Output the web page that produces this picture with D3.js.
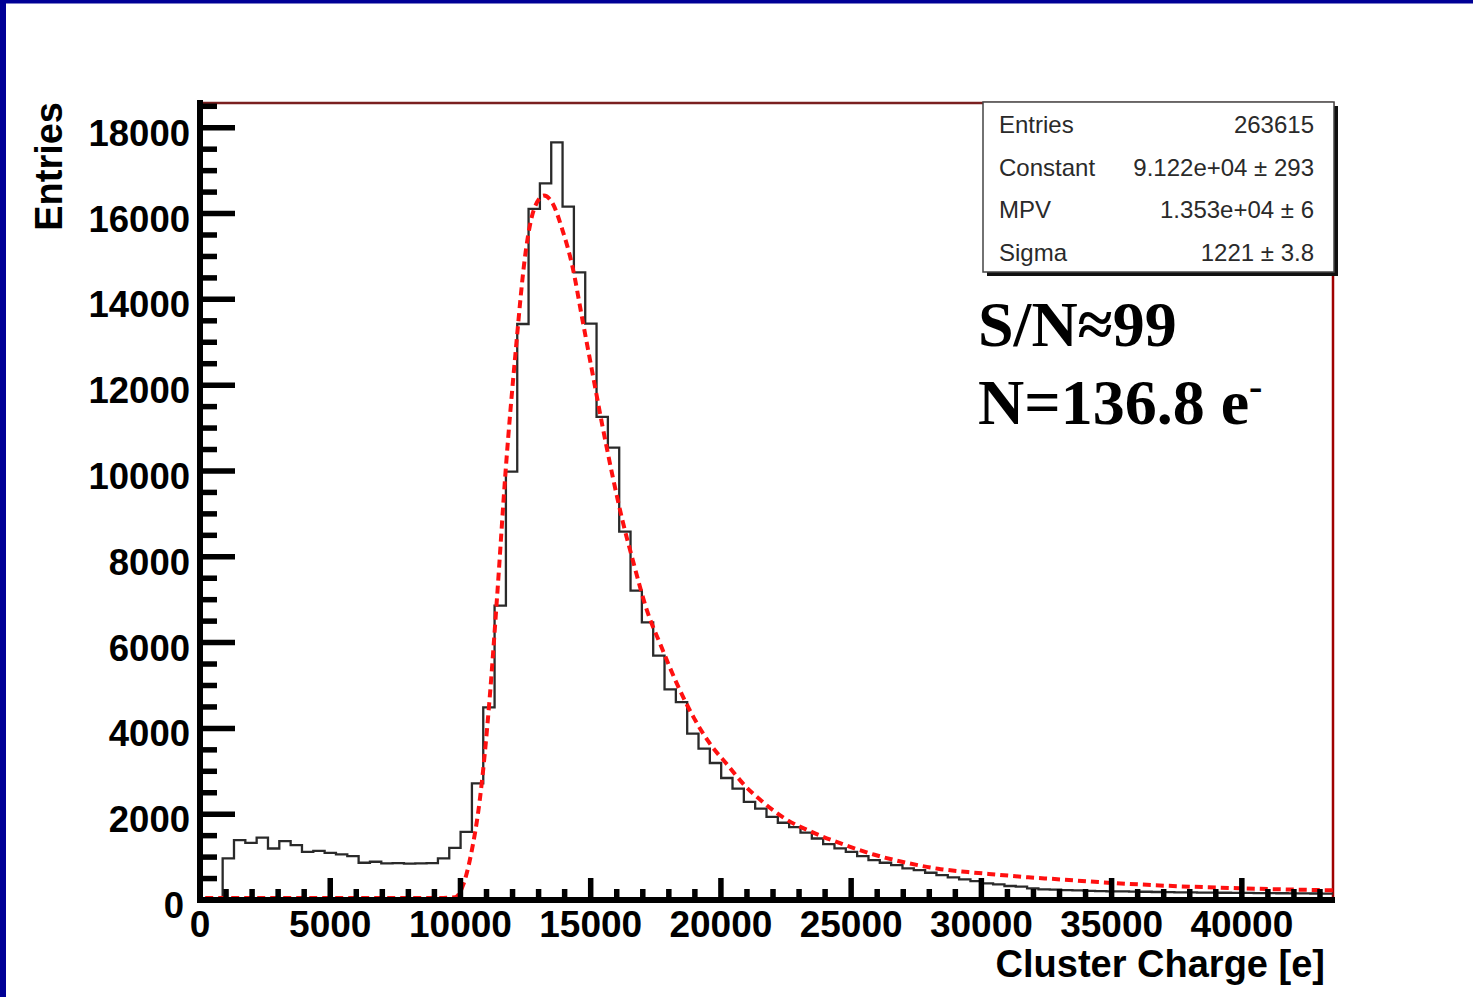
<!DOCTYPE html>
<html>
<head>
<meta charset="utf-8">
<script src="https://cdn.jsdelivr.net/npm/d3@7"></script>
<style>
    body { margin: 0; background: white; }
    svg { display: block; }
</style>
</head>
<body>
<svg id="container" width="1473" height="997"></svg>
<script>
    // histogram: 100 bins from 0 to 43500 e
    let xRange = [0, 43500]
    let counts = [
        0, 0, 970, 1395, 1333, 1456, 1200, 1372, 1279, 1124,
        1147, 1100, 1062, 1023, 868, 891, 853, 860, 850, 855,
        860, 970, 1215, 1589, 2720, 4490, 6860, 9983, 13426, 16108,
        16705, 17658, 16163, 14628, 13434, 11263, 10542, 8588, 7209, 6473,
        5698, 4907, 4612, 3876, 3527, 3193, 2844, 2597, 2287, 2132,
        1938, 1800, 1700, 1570, 1434, 1302, 1202, 1124, 1023, 930,
        868, 814, 737, 698, 635, 581, 528, 481, 442, 388,
        365, 326, 310, 272, 249, 244, 230, 226, 214, 209,
        203, 200, 194, 192, 186, 185, 180, 178, 173, 172,
        169, 166, 165, 161, 160, 157, 156, 153, 152, 150
    ]

    // landau fit curve
    let fitX = [200, 3000, 6000, 9000, 9800, 10100, 10400, 10750, 11100, 11410,
        11730, 12115, 12500, 12820, 13205, 13527, 13910, 14296, 14680, 15065,
        15450, 15835, 16220, 16605, 17180, 17690, 18335, 18973, 19615, 20257,
        20897, 21665, 22435, 23590, 24743, 25897, 27180, 28335, 29488, 30643,
        31797, 32820, 34488, 37050, 39615, 42820, 43500]
    let fitY = [0, 0, 0, 0, 20, 300, 1000, 2325, 4500, 7054,
        9923, 12713, 15046, 16046, 16372, 16202, 15581, 14728, 13488, 12248,
        11007, 9850, 8800, 7900, 6667, 5891, 4961, 4186, 3565, 3100,
        2635, 2209, 1860, 1512, 1240, 1008, 814, 682, 605, 543,
        481, 442, 372, 287, 233, 186, 180]

    let xTickValues = [0, 5000, 10000, 15000, 20000, 25000, 30000, 35000, 40000]
    let yTickValues = [0, 2000, 4000, 6000, 8000, 10000, 12000, 14000, 16000, 18000]
    let xMinorStep = 1000
    let yMinorStep = 500
    let yMax = 18600

    let statsLabels = ["Entries", "Constant", "MPV", "Sigma"]
    let statsValues = ["263615", "9.122e+04 \u00b1 293", "1.353e+04 \u00b1 6", "1221 \u00b1 3.8"]

    let noteLines = ["S/N\u224899", "N=136.8 e"]

    let svg = d3.select("#container")
    let pLeft = 200, pRight = 1333, pTop = 102, pBottom = 900

    let x = d3.scaleLinear().domain(xRange).range([pLeft, pRight])
    let y = d3.scaleLinear().domain([0, yMax]).range([pBottom, pTop])

    // slide background: blue strips
    svg.append("rect").attr("width", 1473).attr("height", 997).attr("fill", "white")
    svg.append("rect").attr("width", 1473).attr("height", 3.5).attr("fill", "#000096")
    svg.append("rect").attr("width", 6).attr("height", 997).attr("fill", "#000096")

    // frame (top and right)
    svg.append("line")
        .attr("x1", pLeft).attr("x2", pRight).attr("y1", pTop + 1).attr("y2", pTop + 1)
        .attr("stroke", "#7a2020").attr("stroke-width", 2.5)
    svg.append("line")
        .attr("x1", pRight).attr("x2", pRight).attr("y1", pTop).attr("y2", pBottom)
        .attr("stroke", "#a00000").attr("stroke-width", 2.5)

    // histogram outline
    let edges = counts.map((c, i) => xRange[0] + i * (xRange[1] - xRange[0]) / counts.length)
    let histPoints = [[xRange[0], 0]].concat(counts.map((c, i) => [edges[i], c]))
    histPoints.push([xRange[1], counts[counts.length - 1]])

    svg.append("path")
        .datum(histPoints)
        .attr("fill", "none")
        .attr("stroke", "#2a2a2a")
        .attr("stroke-width", 2.3)
        .attr("d", d3.line().x(d => x(d[0])).y(d => y(d[1])).curve(d3.curveStepAfter))

    // fit
    svg.append("path")
        .datum(fitX.map((v, i) => [v, fitY[i]]))
        .attr("fill", "none")
        .attr("stroke", "#ff1010")
        .attr("stroke-width", 4)
        .attr("stroke-dasharray", "8,5")
        .attr("d", d3.line().x(d => x(d[0])).y(d => y(d[1]) - 2).curve(d3.curveMonotoneX))

    // ticks
    let axes = svg.append("g")
    let xMinor = d3.range(0, xRange[1], xMinorStep)
    axes.selectAll(".xtick").data(xMinor).enter().append("line")
        .attr("x1", d => x(d)).attr("x2", d => x(d))
        .attr("y1", pBottom)
        .attr("y2", d => d % 5000 === 0 ? pBottom - 22 : pBottom - 11)
        .attr("stroke", "black").attr("stroke-width", 5.5)

    let yMinor = d3.range(0, yMax, yMinorStep)
    axes.selectAll(".ytick").data(yMinor).enter().append("line")
        .attr("x1", pLeft)
        .attr("x2", d => d % 2000 === 0 ? pLeft + 35 : pLeft + 17)
        .attr("y1", d => y(d)).attr("y2", d => y(d))
        .attr("stroke", "black").attr("stroke-width", 5.5)

    // axis lines
    axes.append("line").attr("x1", pLeft).attr("x2", pLeft).attr("y1", pTop - 2).attr("y2", pBottom + 3)
        .attr("stroke", "black").attr("stroke-width", 6)
    axes.append("line").attr("x1", pLeft - 3).attr("x2", pRight + 2).attr("y1", pBottom).attr("y2", pBottom)
        .attr("stroke", "black").attr("stroke-width", 6)

    // tick labels
    let font = "'Liberation Sans', Arial, Helvetica, sans-serif"
    axes.selectAll(".xlab").data(xTickValues).enter().append("text")
        .attr("x", d => x(d)).attr("y", 937)
        .attr("text-anchor", "middle")
        .style("font-family", font).style("font-weight", "bold").style("font-size", "37px")
        .text(d => d)

    axes.selectAll(".ylab").data(yTickValues).enter().append("text")
        .attr("x", d => d === 0 ? 184 : 190).attr("y", d => y(d) + 18)
        .attr("text-anchor", "end")
        .style("font-family", font).style("font-weight", "bold").style("font-size", "36.5px")
        .text(d => d)

    // axis titles
    svg.append("text")
        .attr("x", 1325).attr("y", 977)
        .attr("text-anchor", "end")
        .style("font-family", font).style("font-weight", "bold").style("font-size", "38px")
        .text("Cluster Charge [e]")

    svg.append("text")
        .attr("transform", "translate(62," + pTop + ") rotate(-90)")
        .attr("text-anchor", "end")
        .style("font-family", font).style("font-weight", "bold").style("font-size", "38px")
        .text("Entries")

    // stats box
    let box = svg.append("g").attr("transform", "translate(983," + pTop + ")")
    let boxW = 351, boxH = 170
    box.append("rect").attr("x", 4).attr("y", 4).attr("width", boxW).attr("height", boxH).attr("fill", "#111")
    box.append("rect").attr("width", boxW).attr("height", boxH)
        .attr("fill", "white").attr("stroke", "#444").attr("stroke-width", 1.5)

    let row = d3.scalePoint().domain(statsLabels).range([31, 159])
    box.selectAll(".slab").data(statsLabels).enter().append("text")
        .attr("x", 16).attr("y", d => row(d))
        .style("font-family", font).style("font-size", "24px").style("fill", "#2a2a2a")
        .text(d => d)
    box.selectAll(".sval").data(statsValues).enter().append("text")
        .attr("x", 331).attr("y", (d, i) => row(statsLabels[i]))
        .attr("text-anchor", "end")
        .style("font-family", font).style("font-size", "24px").style("fill", "#2a2a2a")
        .text(d => d)

    // annotation
    let serif = "'Liberation Serif', 'Times New Roman', serif"
    let note = svg.append("g")
    note.append("text")
        .attr("x", 978).attr("y", 346)
        .style("font-family", serif)
        .style("font-weight", "bold").style("font-size", "64px")
        .text(noteLines[0])
    let n2 = note.append("text")
        .attr("x", 978).attr("y", 424)
        .style("font-family", serif)
        .style("font-weight", "bold").style("font-size", "64px")
        .text(noteLines[1])
    n2.append("tspan").attr("dy", -24).style("font-size", "40px").text("-")
</script>
</body>
</html>
